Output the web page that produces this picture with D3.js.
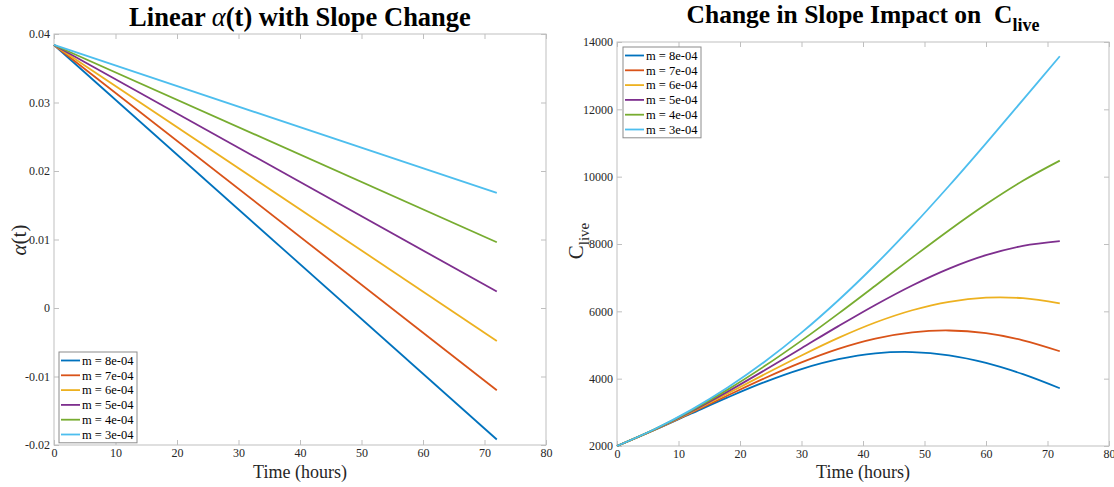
<!DOCTYPE html>
<html>
<head>
<meta charset="utf-8">
<script src="https://cdn.jsdelivr.net/npm/d3@7"></script>
<style>
  html, body { margin: 0; padding: 0; background: #ffffff; }
  svg { display: block; font-family: 'Liberation Serif', 'Times New Roman', serif; }
</style>
</head>
<body>
<div id="chart"></div>
<script>
// series labels and colours (MATLAB default order)
var slopeLabels = ['m = 8e-04', 'm = 7e-04', 'm = 6e-04', 'm = 5e-04', 'm = 4e-04', 'm = 3e-04'];
var colors = ['#0072BD', '#D95319', '#EDB120', '#7E2F8E', '#77AC30', '#4DBEEE'];

// left panel: alpha(t) straight lines, start and end values
var alphaHours = [0, 72];
var alphaM8 = [0.0384, -0.0192];
var alphaM7 = [0.0384, -0.0120];
var alphaM6 = [0.0384, -0.0048];
var alphaM5 = [0.0384, 0.0024];
var alphaM4 = [0.0384, 0.0096];
var alphaM3 = [0.0384, 0.0168];

// right panel: C_live every 6 hours
var cHours = [0, 6, 12, 18, 24, 30, 36, 42, 48, 54, 60, 66, 72];
var cM8 = [2000, 2467, 2957, 3444, 3898, 4285, 4577, 4751, 4791, 4694, 4469, 4134, 3715];
var cM7 = [2000, 2472, 2979, 3501, 4012, 4482, 4884, 5189, 5376, 5431, 5350, 5139, 4814];
var cM6 = [2000, 2476, 3000, 3558, 4129, 4689, 5211, 5668, 6032, 6284, 6406, 6390, 6239];
var cM5 = [2000, 2481, 3022, 3616, 4249, 4905, 5560, 6190, 6769, 7270, 7669, 7945, 8085];
var cM4 = [2000, 2485, 3044, 3675, 4373, 5130, 5932, 6761, 7595, 8411, 9181, 9878, 10477];
var cM3 = [2000, 2490, 3066, 3735, 4501, 5366, 6329, 7384, 8523, 9731, 10991, 12282, 13578];

// ticks
var xTicks = [0, 10, 20, 30, 40, 50, 60, 70, 80];
var alphaTicks = [-0.02, -0.01, 0, 0.01, 0.02, 0.03, 0.04];
var alphaTickLabels = ['-0.02', '-0.01', '0', '0.01', '0.02', '0.03', '0.04'];
var cTicks = [2000, 4000, 6000, 8000, 10000, 12000, 14000];
var cTickLabels = ['2000', '4000', '6000', '8000', '10000', '12000', '14000'];

var W = 1114, H = 487;
var axisColor = '#bfbfbf';
var textColor = '#262626';

var svg = d3.select('#chart').append('svg')
  .attr('width', W)
  .attr('height', H);

function drawPanel(cfg) {
  var x = d3.scaleLinear().domain([0, 80]).range([cfg.left, cfg.right]);
  var y = d3.scaleLinear().domain(cfg.yDomain).range([cfg.bottom, cfg.top]);
  var g = svg.append('g');

  // box
  g.append('rect')
    .attr('x', cfg.left).attr('y', cfg.top)
    .attr('width', cfg.right - cfg.left).attr('height', cfg.bottom - cfg.top)
    .attr('fill', 'none').attr('stroke', axisColor).attr('stroke-width', 1);

  // bottom axis with labels, ticks inward
  var bx = g.append('g').attr('transform', 'translate(0,' + cfg.bottom + ')')
    .call(d3.axisBottom(x).tickValues(xTicks).tickSizeInner(-5).tickSizeOuter(0).tickPadding(3).tickFormat(d3.format('d')));
  // top axis, ticks only
  var tx = g.append('g').attr('transform', 'translate(0,' + cfg.top + ')')
    .call(d3.axisTop(x).tickValues(xTicks).tickSizeInner(-5).tickSizeOuter(0).tickFormat(''));
  // left axis with labels
  var ly = g.append('g').attr('transform', 'translate(' + cfg.left + ',0)')
    .call(d3.axisLeft(y).tickValues(cfg.yTicks).tickSizeInner(-5).tickSizeOuter(0).tickPadding(4)
      .tickFormat(function(d, i){ return cfg.yTickLabels[i]; }));
  // right axis, ticks only
  var ry = g.append('g').attr('transform', 'translate(' + cfg.right + ',0)')
    .call(d3.axisRight(y).tickValues(cfg.yTicks).tickSizeInner(-5).tickSizeOuter(0).tickFormat(''));

  [bx, tx, ly, ry].forEach(function(a){
    a.select('.domain').remove();
    a.selectAll('line').attr('stroke', axisColor);
    a.selectAll('text')
      .attr('fill', textColor)
      .style('font-family', "'Liberation Serif', serif")
      .style('font-size', '12px');
  });

  // lines
  var line = d3.line()
    .x(function(d){ return x(d[0]); })
    .y(function(d){ return y(d[1]); })
    .curve(cfg.curve);
  cfg.series.forEach(function(vals, i){
    g.append('path')
      .datum(cfg.xs.map(function(t, j){ return [t, vals[j]]; }))
      .attr('d', line)
      .attr('fill', 'none')
      .attr('stroke', colors[i])
      .attr('stroke-width', 1.8);
  });

  // x axis title
  g.append('text')
    .attr('x', (cfg.left + cfg.right) / 2)
    .attr('y', 478)
    .attr('text-anchor', 'middle')
    .attr('fill', textColor)
    .style('font-size', '18px')
    .text('Time (hours)');

  // legend
  var lg = g.append('g').attr('transform', 'translate(' + cfg.legend.x + ',' + cfg.legend.y + ')');
  var rowH = 14.8, lw = 78;
  lg.append('rect')
    .attr('x', 0).attr('y', 0)
    .attr('width', lw).attr('height', rowH * slopeLabels.length + 2)
    .attr('fill', '#ffffff').attr('stroke', '#8c8c8c').attr('stroke-width', 1);
  slopeLabels.forEach(function(lbl, i){
    var cy = 8.5 + i * rowH;
    lg.append('line')
      .attr('x1', 2).attr('x2', 21)
      .attr('y1', cy).attr('y2', cy)
      .attr('stroke', colors[i]).attr('stroke-width', 1.8);
    lg.append('text')
      .attr('x', 23).attr('y', cy + 4.2)
      .attr('fill', '#000')
      .style('font-size', '12.5px')
      .text(lbl);
  });
  return g;
}

// left panel
var left = drawPanel({
  left: 54, right: 546, top: 34, bottom: 445,
  yDomain: [-0.02, 0.04], yTicks: alphaTicks, yTickLabels: alphaTickLabels,
  xs: alphaHours,
  series: [alphaM8, alphaM7, alphaM6, alphaM5, alphaM4, alphaM3],
  curve: d3.curveLinear,
  legend: { x: 59, y: 352 }
});

// right panel
var right = drawPanel({
  left: 617, right: 1109, top: 42, bottom: 446,
  yDomain: [2000, 14000], yTicks: cTicks, yTickLabels: cTickLabels,
  xs: cHours,
  series: [cM8, cM7, cM6, cM5, cM4, cM3],
  curve: d3.curveCatmullRom,
  legend: { x: 623, y: 47 }
});

// titles
var t1 = svg.append('text')
  .attr('x', 300).attr('y', 26)
  .attr('text-anchor', 'middle')
  .attr('fill', '#000')
  .style('font-size', '26.5px').style('font-weight', 'bold');
t1.append('tspan').text('Linear ');
t1.append('tspan').style('font-style', 'italic').style('font-weight', 'normal').text('α');
t1.append('tspan').text('(t) with Slope Change');

var t2 = svg.append('text')
  .attr('x', 863).attr('y', 23)
  .attr('text-anchor', 'middle')
  .attr('fill', '#000')
  .style('font-size', '25.5px').style('font-weight', 'bold');
t2.append('tspan').text('Change in Slope Impact on \u00a0C');
t2.append('tspan').attr('dy', 8).style('font-size', '18px').text('live');

// y axis titles
var yl1 = svg.append('text')
  .attr('transform', 'translate(26,240) rotate(-90)')
  .attr('text-anchor', 'middle')
  .attr('fill', textColor)
  .style('font-size', '21px');
yl1.append('tspan').style('font-style', 'italic').text('α');
yl1.append('tspan').text('(t)');

var yl2 = svg.append('text')
  .attr('transform', 'translate(583,241) rotate(-90)')
  .attr('text-anchor', 'middle')
  .attr('fill', textColor)
  .style('font-size', '21px');
yl2.append('tspan').text('C');
yl2.append('tspan').attr('dy', 6).style('font-size', '15px').text('live');
</script>
</body>
</html>
